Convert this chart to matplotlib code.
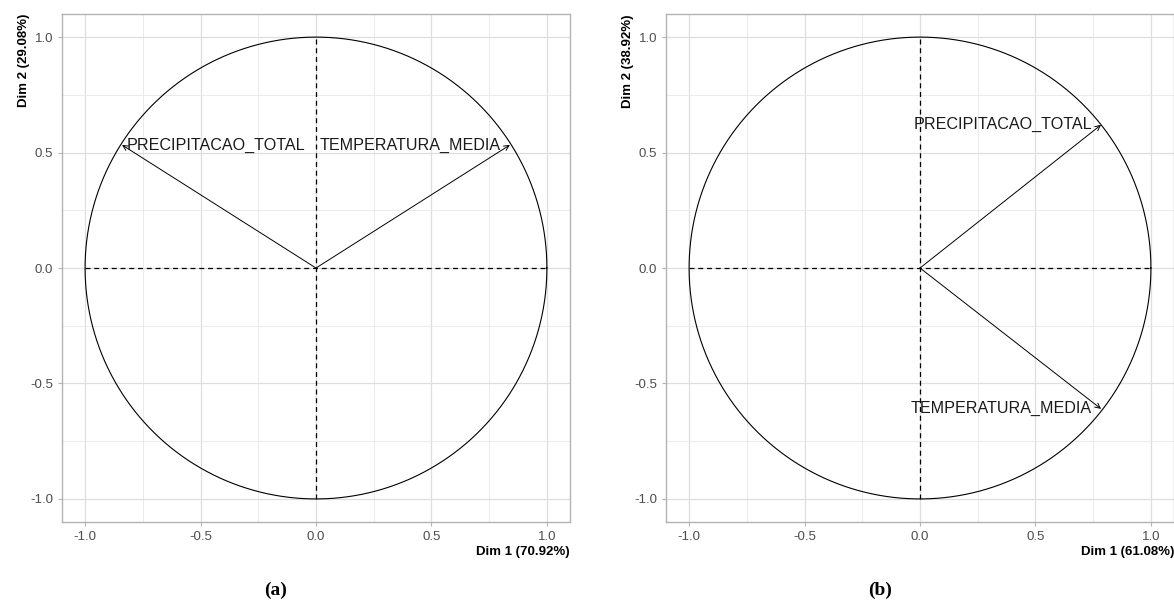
import numpy as np
import matplotlib
matplotlib.use("Agg")
import matplotlib.pyplot as plt
from matplotlib.ticker import MultipleLocator

plt.rcParams["font.family"] = ["Liberation Sans", "DejaVu Sans"]
plt.rcParams["axes.unicode_minus"] = False

variables = ["PRECIPITACAO_TOTAL", "TEMPERATURA_MEDIA"]

# coordinates of the variables on Dim 1 / Dim 2
coords_a = [(-0.84, 0.533), (0.84, 0.533)]
coords_b = [(0.784, 0.62), (0.784, -0.61)]

var_a = ["70.92", "29.08"]
var_b = ["61.08", "38.92"]

ticks = [-1.0, -0.5, 0.0, 0.5, 1.0]


def draw_panel(ax, coords, variance, label_ha):
    ax.set_xlim(-1.1, 1.1)
    ax.set_ylim(-1.1, 1.1)
    ax.set_aspect("equal")

    ax.set_xticks(ticks)
    ax.set_yticks(ticks)
    ax.xaxis.set_minor_locator(MultipleLocator(0.25))
    ax.yaxis.set_minor_locator(MultipleLocator(0.25))
    ax.grid(True, which="major", color="#DEDEDE", lw=0.9)
    ax.grid(True, which="minor", color="#E8E8E8", lw=0.6)
    ax.set_axisbelow(True)
    ax.tick_params(which="minor", length=0)
    ax.tick_params(which="major", length=3, color="#B3B3B3",
                   labelcolor="#4D4D4D", labelsize=9.5)
    for s in ax.spines.values():
        s.set_color("#B3B3B3")
        s.set_linewidth(1.0)

    t = np.linspace(0, 2 * np.pi, 400)
    ax.plot(np.cos(t), np.sin(t), color="black", lw=0.8)
    ax.plot([-1, 1], [0, 0], color="black", lw=0.9, ls=(0, (4, 3)))
    ax.plot([0, 0], [-1, 1], color="black", lw=0.9, ls=(0, (4, 3)))

    for name, (x, y), ha in zip(variables, coords, label_ha):
        ax.annotate("", xy=(x, y), xytext=(0, 0),
                    arrowprops=dict(arrowstyle="->", color="black", lw=0.7,
                                    shrinkA=0, shrinkB=0, mutation_scale=9))
        dx = 0.022 if ha == "left" else -0.04
        ax.text(x + dx, y, name, ha=ha, va="center", fontsize=11.6,
                color="#1A1A1A")

    ax.set_xlabel(f"Dim 1 ({variance[0]}%)", fontweight="bold", fontsize=9.5,
                  loc="right", labelpad=2)
    ax.set_ylabel(f"Dim 2 ({variance[1]}%)", fontweight="bold", fontsize=9.5,
                  loc="top", labelpad=0)


fig = plt.figure(figsize=(11.74, 6.01), dpi=100)
ax1 = fig.add_axes([0.0528, 0.1314, 0.4327, 0.8453])
ax2 = fig.add_axes([0.5673, 0.1314, 0.4327, 0.8453])

draw_panel(ax1, coords_a, var_a, ["left", "right"])
draw_panel(ax2, coords_b, var_b, ["right", "right"])

fig.text(0.235, 0.01, "(a)", ha="center", fontsize=14, fontweight="bold",
         family="Liberation Serif")
fig.text(0.75, 0.01, "(b)", ha="center", fontsize=14, fontweight="bold",
         family="Liberation Serif")

fig.savefig("out.png", dpi=100)
